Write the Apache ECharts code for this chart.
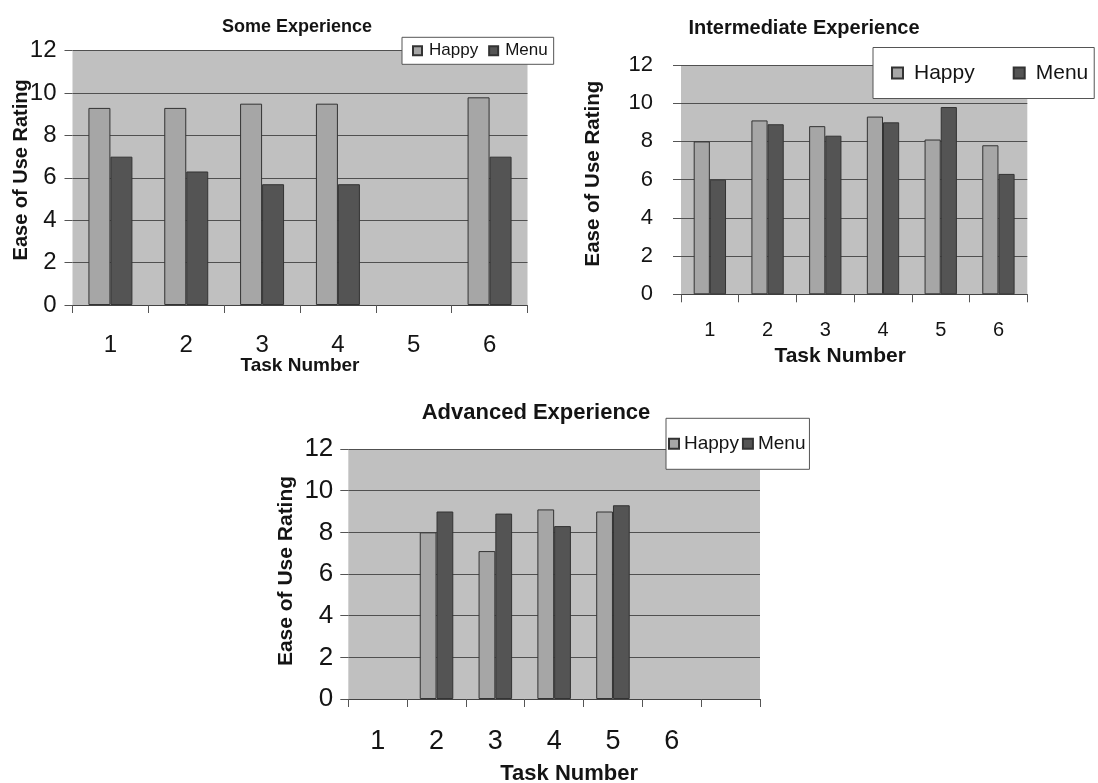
<!DOCTYPE html>
<html>
<head>
<meta charset="utf-8">
<script src="https://cdn.jsdelivr.net/npm/echarts@6/dist/echarts.min.js"></script>
<style>
html,body{margin:0;padding:0;background:#fff;}
#c{width:1098px;height:783px;}
</style>
</head>
<body>
<div id="c"></div>
<script>
// ---- data ----
const tasks = ['1', '2', '3', '4', '5', '6'];
const tasksAdvanced = ['1', '2', '3', '4', '5', '6', ''];
const seriesNames = ['Happy', 'Menu'];
const someHappy = [9.3, 9.3, 9.5, 9.5, null, 9.8];
const someMenu = [7.0, 6.3, 5.7, 5.7, null, 7.0];
const interHappy = [8.0, 9.1, 8.8, 9.3, 8.1, 7.8];
const interMenu = [6.0, 8.9, 8.3, 9.0, 9.8, 6.3];
const advHappy = [null, 8.0, 7.1, 9.1, 9.0, null, null];
const advMenu = [null, 9.0, 8.9, 8.3, 9.3, null, null];
const yMin = 0, yMax = 12, yStep = 2;
const titles = ['Some Experience', 'Intermediate Experience', 'Advanced Experience'];
const xName = 'Task Number';
const yName = 'Ease of Use Rating';

// ---- style ----
const FONT = 'Liberation Sans, Arial, sans-serif';
const TXT = '#141414';
const PLOT_BG = '#c0c0c0';
const HAPPY = '#a6a6a6';
const MENU = '#545454';
const EDGE = '#333333';
const GRIDLINE = '#505050';

const panels = [
  {grid:{left:72.5, top:50.7, width:455, height:254.3}, cats:tasks, h:someHappy, m:someMenu,
   title:{x:297, y:26.7, size:18},
   yLab:24, yMargin:16, xLab:24, xMargin:28, yNameSize:20, yNameGap:41, yNamePad:[0,0,0,16],
   xNameSize:19, xNameGap:51, xNamePad:[0,0,0,0], gap:'42%',
   legend:{left:402, top:37.3, padding:[5,6,5,10], icon:9, gap:10, size:17, tpad:2}},
  {grid:{left:681, top:65, width:346.3, height:229.3}, cats:tasks, h:interHappy, m:interMenu,
   title:{x:804, y:28.3, size:20},
   yLab:22, yMargin:28, xLab:20, xMargin:26, yNameSize:20.5, yNameGap:77, yNamePad:[0,0,0,12],
   xNameSize:21, xNameGap:51, xNamePad:[0,28,0,0], gap:'44%',
   legend:{left:873, top:47.5, padding:[15,6,15,18], icon:11, gap:38, size:21, tpad:6}},
  {grid:{left:348.3, top:449, width:411.7, height:250}, cats:tasksAdvanced, h:advHappy, m:advMenu,
   title:{x:536, y:413.3, size:22},
   yLab:26, yMargin:15, xLab:27, xMargin:29, yNameSize:21, yNameGap:52, yNamePad:[0,0,0,6],
   xNameSize:22, xNameGap:64, xNamePad:[0,0,0,30], gap:'43%',
   legend:{left:666, top:418.3, padding:[16,4,16,2], icon:10, gap:3, size:19, tpad:0}}
];

const option = {
  animation:false,
  backgroundColor:'#ffffff',
  textStyle:{fontFamily:FONT},
  title:[], grid:[], xAxis:[], yAxis:[], legend:[], series:[]
};

panels.forEach((p, i) => {
  option.title.push({
    text: titles[i], left: p.title.x, top: p.title.y, padding: 0,
    textAlign:'center', textVerticalAlign:'middle',
    textStyle:{fontFamily:FONT, fontWeight:'bold', fontSize:p.title.size, color:TXT}
  });
  option.grid.push(Object.assign({show:true, backgroundColor:PLOT_BG, borderWidth:0, containLabel:false, outerBoundsMode:'none'}, p.grid));
  option.xAxis.push({
    type:'category', gridIndex:i, data:p.cats,
    boundaryGap:true,
    axisLine:{show:true, lineStyle:{color:'#444', width:1}},
    axisTick:{show:true, length:8, alignWithLabel:false, interval:0, lineStyle:{color:'#555'}},
    axisLabel:{fontFamily:FONT, fontSize:p.xLab, color:TXT, margin:p.xMargin, interval:0},
    splitLine:{show:false},
    name:xName, nameLocation:'middle', nameGap:p.xNameGap, nameMoveOverlap:false,
    nameTextStyle:{fontFamily:FONT, fontWeight:'bold', fontSize:p.xNameSize, color:TXT, padding:p.xNamePad}
  });
  option.yAxis.push({
    type:'value', gridIndex:i, min:yMin, max:yMax, interval:yStep,
    axisLine:{show:false},
    axisTick:{show:true, length:8, lineStyle:{color:'#555'}},
    axisLabel:{fontFamily:FONT, fontSize:p.yLab, color:TXT, margin:p.yMargin},
    splitLine:{show:true, lineStyle:{color:GRIDLINE, width:1}},
    name:yName, nameLocation:'middle', nameGap:p.yNameGap, nameMoveOverlap:false,
    nameTextStyle:{fontFamily:FONT, fontWeight:'bold', fontSize:p.yNameSize, color:TXT, padding:p.yNamePad}
  });
  const L = p.legend;
  option.legend.push({
    data:seriesNames, orient:'horizontal', left:L.left, top:L.top, padding:L.padding,
    backgroundColor:'#ffffff', borderColor:'#555', borderWidth:1, borderRadius:0,
    icon:'rect', itemWidth:L.icon, itemHeight:L.icon, itemGap:L.gap,
    selectedMode:false,
    textStyle:{fontFamily:FONT, fontSize:L.size, color:TXT, padding:[0,0,0,L.tpad]}
  });
  [p.h, p.m].forEach((vals, k) => {
    option.series.push({
      name:seriesNames[k], type:'bar', xAxisIndex:i, yAxisIndex:i, data:vals,
      barGap:'0%', barCategoryGap:p.gap,
      itemStyle:{color:k===0?HAPPY:MENU, borderColor:EDGE, borderWidth:1},
      emphasis:{disabled:true}
    });
  });
});

const chart = echarts.init(document.getElementById('c'), null, {renderer:'canvas'});
chart.setOption(option);
</script>
</body>
</html>
